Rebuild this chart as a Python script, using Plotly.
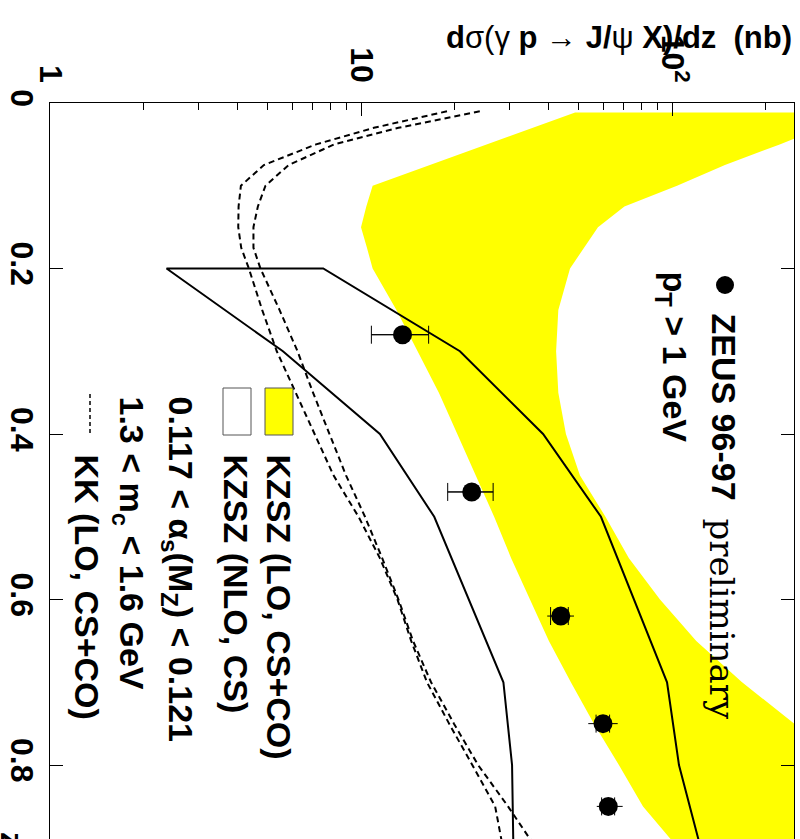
import plotly.graph_objects as go

# ZEUS 96-97 preliminary: dsigma/dz (nb) in bins of z
zeus_z = [0.28, 0.47, 0.62, 0.75, 0.85]
zeus_sigma = [13.6, 22.7, 43.9, 60.0, 62.4]
zeus_stat_lo = [2.8, 3.7, 3.2, 3.0, 3.0]
zeus_stat_hi = [2.9, 3.9, 2.5, 3.0, 3.0]
zeus_tot_lo = [2.8, 3.7, 4.2, 6.2, 5.1]
zeus_tot_hi = [2.9, 3.9, 4.5, 6.9, 7.0]

# KZSZ (LO, CS+CO) band
band_z = [0.0115, 0.05, 0.075, 0.1, 0.125, 0.15, 0.175, 0.2, 0.25, 0.3, 0.35,
          0.4, 0.45, 0.5, 0.55, 0.6, 0.65, 0.7, 0.75, 0.8, 0.85, 0.9]
band_lo = [48.8, 25.4, 16.7, 10.9, 10.4, 10.0, 10.45, 10.9, 13.0, 15.2, 17.8,
           20.4, 23.4, 26.8, 30.4, 34.9, 40.2, 47.3, 56.1, 67.5, 80.7, 104.5]
band_hi = [402, 222, 148, 103.8, 70.3, 57.8, 52.1, 47.0, 43.1, 42.4, 43.1,
           45.6, 50.6, 61.1, 72.7, 91.5, 119.7, 168, 247, 365, 541, 800]

# KZSZ (NLO, CS) band edges
nlo_z = [0.2, 0.3, 0.4, 0.5, 0.6, 0.7, 0.8, 0.9]
nlo_lo = [2.37, 5.61, 11.5, 17.2, 22.2, 28.7, 30.6, 30.9]
nlo_hi = [7.56, 20.8, 38.5, 59.1, 75.5, 96.4, 105.3, 123.6]

# KK (LO, CS+CO) curves
kk_z = [0.01, 0.03, 0.05, 0.075, 0.1, 0.125, 0.15, 0.175, 0.2, 0.25, 0.3, 0.35,
        0.4, 0.45, 0.5, 0.55, 0.6, 0.65, 0.7, 0.75, 0.8, 0.85, 0.9]
kk_a = [18.9, 11.0, 7.17, 4.87, 4.11, 4.04, 4.03, 4.12, 4.36, 4.81, 5.36, 6.16,
        7.09, 8.16, 9.82, 11.5, 13.1, 14.5, 16.3, 19.2, 22.8, 27.0, 28.6]
kk_b = [24.1, 13.2, 8.20, 5.85, 4.93, 4.66, 4.51, 4.51, 4.75, 5.47, 6.25, 7.01,
        7.92, 8.95, 10.3, 11.7, 13.2, 14.7, 16.8, 19.9, 23.8, 29.7, 36.5]

# axis ticks
x_major = [1, 10, 100]
x_major_text = ["1", "10", "10<sup>2</sup>"]
x_minor = [2, 3, 4, 5, 6, 7, 8, 9, 20, 30, 40, 50, 60, 70, 80, 90, 200]
z_ticks = [0, 0.2, 0.4, 0.6, 0.8]
z_tick_text = ["0", "0.2", "0.4", "0.6", "0.8"]

SANS = "Liberation Sans, Arial, Helvetica, sans-serif"
SERIF = "DejaVu Serif, serif"
YELLOW = "#ffff00"

fig = go.Figure()

fig.add_trace(go.Scatter(
    x=band_lo + band_hi[::-1], y=band_z + band_z[::-1],
    mode="lines", fill="toself", fillcolor=YELLOW,
    line=dict(width=0, color=YELLOW), hoverinfo="skip"))

for curve in (kk_a, kk_b):
    fig.add_trace(go.Scatter(
        x=curve, y=kk_z, mode="lines",
        line=dict(color="black", width=2, dash="6px,4px")))

fig.add_trace(go.Scatter(
    x=nlo_lo[::-1] + nlo_hi, y=nlo_z[::-1] + nlo_z, mode="lines",
    line=dict(color="black", width=2)))

# statistical errors (with end ticks)
fig.add_trace(go.Scatter(
    x=zeus_sigma, y=zeus_z, mode="markers",
    marker=dict(size=2, color="black", opacity=0),
    error_x=dict(type="data", symmetric=False, array=zeus_stat_hi,
                 arrayminus=zeus_stat_lo, color="black", thickness=1, width=9)))

# total errors and points
fig.add_trace(go.Scatter(
    x=zeus_sigma, y=zeus_z, mode="markers",
    marker=dict(size=19, color="black", symbol="circle"),
    error_x=dict(type="data", symmetric=False, array=zeus_tot_hi,
                 arrayminus=zeus_tot_lo, color="black", thickness=1, width=0)))

W, H = 800, 839
L, R, T, B = 50, 6, 103, 0
PW, PH = W - L - R, H - T - B


def px(X):
    return (X - L) / PW


def py(Y):
    return (H - B - Y) / PH


def rot_text(text, X, Y, size=34, family=SANS, weight="bold", xanchor="center",
             yanchor="top"):
    return dict(text=text, xref="paper", yref="paper", x=px(X), y=py(Y),
                xanchor=xanchor, yanchor=yanchor, textangle=90, showarrow=False,
                font=dict(family=family, size=size, color="black", weight=weight),
                borderpad=0)


annotations = [
    dict(text='d<span style="font-weight:normal">σ(γ</span> p → J/<span style="font-weight:normal">ψ</span> X)/dz\u00a0\u00a0(nb)',
         xref="paper", yref="paper", x=px(794), y=py(37), xanchor="right",
         yanchor="middle", showarrow=False,
         font=dict(family=SANS, size=31, color="black", weight="bold")),
    rot_text("ZEUS 96-97", 724, 312),
    rot_text("preliminary", 722, 517, family=SERIF, weight="normal"),
    rot_text("p<sub>T</sub> > 1 GeV", 672, 270),
    rot_text("KZSZ (LO, CS+CO)", 279, 453),
    rot_text("KZSZ (NLO, CS)", 236, 453),
    rot_text("0.117 < α<sub>s</sub>(M<sub>Z</sub>) < 0.121", 178, 395),
    rot_text("1.3 < m<sub>c</sub> < 1.6 GeV", 129, 395),
    rot_text("KK (LO, CS+CO)", 87, 453),
    rot_text("z", 12, 831, size=32),
]

shapes = [
    dict(type="circle", xref="paper", yref="paper", xsizemode="pixel",
         ysizemode="pixel", xanchor=px(725), yanchor=py(285),
         x0=-9, x1=9, y0=-9, y1=9, fillcolor="black", line=dict(width=0)),
    dict(type="rect", xref="paper", yref="paper", x0=px(265), x1=px(293),
         y0=py(435), y1=py(388), fillcolor=YELLOW, line=dict(color="#555", width=1)),
    dict(type="rect", xref="paper", yref="paper", x0=px(223), x1=px(251),
         y0=py(435), y1=py(388), fillcolor="white", line=dict(color="#555", width=1)),
    dict(type="line", xref="paper", yref="paper", x0=px(90), x1=px(90),
         y0=py(433), y1=py(392), line=dict(color="black", width=1.5, dash="4px,3px")),
]

fig.update_layout(
    width=W, height=H, margin=dict(l=L, r=R, t=T, b=B),
    plot_bgcolor="white", paper_bgcolor="white", showlegend=False,
    annotations=annotations, shapes=shapes,
    xaxis=dict(type="log", range=[0, 2.3923], side="top", showline=True,
               linecolor="black", linewidth=1, mirror=False, showgrid=False,
               zeroline=False, ticks="inside", ticklen=13, tickcolor="black",
               tickwidth=1, tickmode="array", tickvals=x_major,
               ticktext=x_major_text, tickangle=90, ticklabelstandoff=8,
               tickfont=dict(family=SANS, size=32, color="black", weight="bold"),
               minor=dict(ticks="inside", ticklen=7, tickcolor="black",
                          tickwidth=1, tickmode="array", tickvals=x_minor,
                          showgrid=False)),
    yaxis=dict(range=[0.8894, 0], showline=True, linecolor="black", linewidth=1,
               mirror="ticks", showgrid=False, zeroline=False, ticks="inside",
               ticklen=13, tickcolor="black", tickwidth=1, tickmode="array",
               tickvals=z_ticks, ticktext=z_tick_text, tickangle=90,
               tickfont=dict(family=SANS, size=32, color="black", weight="bold")),
)

fig.write_html("out.html")
